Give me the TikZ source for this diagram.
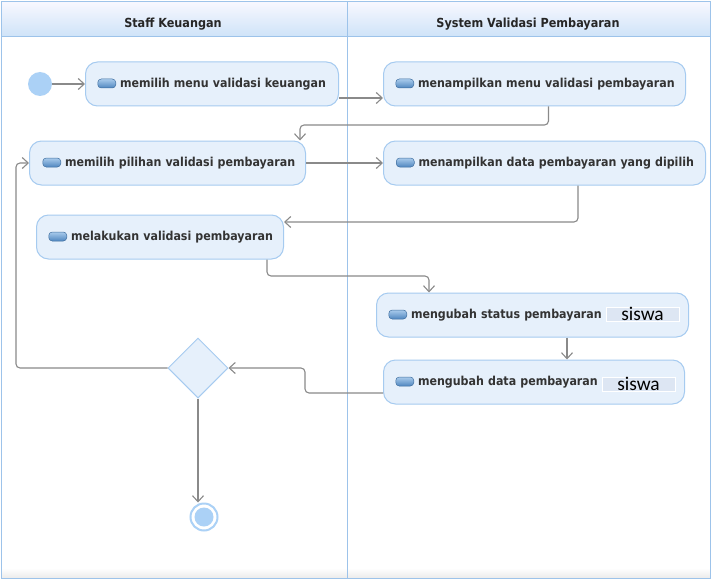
\documentclass[tikz,border=0pt]{standalone}
\usepackage{fontspec}
\setmainfont{DejaVu Sans Condensed}
\newfontfamily\carl{Carlito}
\usetikzlibrary{arrows.meta,shapes.geometric,calc}
\definecolor{laneb}{HTML}{9DC3EA}
\definecolor{actf}{HTML}{E6F0FB}
\definecolor{actb}{HTML}{A6CBF0}
\definecolor{txt}{HTML}{333333}
\definecolor{arr}{HTML}{8A8A8A}
\definecolor{initc}{HTML}{ABD1F6}
\definecolor{sisf}{HTML}{DDE6F3}
\definecolor{icotop}{HTML}{A9CBEC}
\definecolor{icobot}{HTML}{4F86BF}
\definecolor{icob}{HTML}{3F6E9F}
\newcommand{\acticon}{\tikz[baseline={(0,-8.5pt)}]\shade[top color=icotop,bottom color=icobot,draw=icob,line width=0.5pt,rounded corners=3.5pt] (0,0) rectangle (18pt,-9pt);\hspace{4pt}}
\newcommand{\acttext}[1]{\mbox{\acticon #1}}
\tikzset{
  act/.style={draw=actb, fill=actf, rounded corners=12pt, line width=1pt,
    minimum height=44pt, inner xsep=12pt, inner ysep=0pt, align=left, anchor=west,
    text height=10pt, text depth=3pt,
    font=\bfseries\fontsize{12.3}{14}\selectfont, text=txt},
  sis/.style={draw=white, fill=sisf, line width=0.6pt, minimum width=73pt, minimum height=14pt,
    inner sep=0pt, font=\carl\fontsize{19.4}{19}\selectfont, text=black},
  flow/.style={draw=arr, line width=1.1pt, rounded corners=4pt,
    -{Straight Barb[length=6pt,width=11pt,line width=1.1pt]}},
  hdr/.style={font=\bfseries\fontsize{12.5}{14}\selectfont, text=black!85}
}
\begin{document}
\begin{tikzpicture}[x=1pt,y=-1pt]
\useasboundingbox (0,0) rectangle (714,583);
% swimlanes
\fill[white] (0,0) rectangle (714,583);
\shade[top color=white, bottom color=black!8] (1,568) rectangle (710,578);
\shade[top color=blue!3!white, bottom color={rgb,255:red,206;green,227;blue,248}] (1,2) rectangle (710,37);
\draw[laneb, line width=1pt] (1,2) rectangle (710,578);
\draw[laneb, line width=1pt] (1,37) -- (710,37);
\draw[laneb, line width=1pt] (347,2) -- (347,578);
\node[hdr] (h1) at (173,24) {Staff Keuangan};
\node[hdr] (h2) at (528,24) {System Validasi Pembayaran};
% nodes
\node[circle, fill=initc, minimum size=24pt, inner sep=0pt] (start) at (40,84) {};
\node[act, text width=229pt] (n1) at (85,84) {\acttext{memilih menu validasi keuangan}};
\node[act, text width=278pt] (n2) at (383,84) {\acttext{menampilkan menu validasi pembayaran}};
\node[act, text width=250pt, inner xsep=13pt] (n3) at (29,163) {\acttext{memilih pilihan validasi pembayaran}};
\node[act, text width=297pt, inner xsep=12.5pt] (n4) at (383,163) {\acttext{menampilkan data pembayaran yang dipilih}};
\node[act, text width=223pt, inner xsep=12pt] (n5) at (36,237) {\acttext{melakukan validasi pembayaran}};
\node[act, text width=288pt] (n6) at (376,315) {\acttext{mengubah status pembayaran}};
\node[act, text width=277pt] (n7) at (383,382) {\acttext{mengubah data pembayaran}};
\node[sis] (s6) at (642.5,314) {siswa};
\node[sis] (s7) at (638.5,384) {siswa};
\node[diamond, draw=actb, fill=actf, line width=1pt, minimum width=60pt, minimum height=60pt, inner sep=0pt] (dec) at (198,368) {};
\node[circle, draw=initc, line width=2pt, fill=white, minimum size=27pt, inner sep=0pt] (end) at (204,517) {};
\fill[initc] (end.center) circle (9.5);
% bend coordinates
\coordinate (b3) at (300,125);
\coordinate (b5) at (578,222);
\coordinate (b6a) at (267,276);
\coordinate (b6b) at (429,276);
\coordinate (b7) at (567,0);
\coordinate (b8) at (305,393);
\coordinate (b9) at (16,368);
% connectors
\draw[flow] (start) -- (n1.west);
\draw[flow] ([yshift=-14pt]n1.east) -- ([yshift=-14pt]n2.west);
\draw[flow] ([xshift=14pt]n2.south) |- (b3) -- (b3 |- n3.north);
\draw[flow] (n3.east) -- (n4.west);
\draw[flow] (n4.south -| b5) -- (b5) -- (b5 -| n5.east);
\draw[flow] (n5.south -| b6a) -- (b6a) -- (b6b) -- (b6b |- n6.north);
\draw[flow] (n6.south -| b7) -- (n7.north -| b7);
\draw[flow] (n7.west |- b8) -- (b8) |- (dec.east);
\draw[flow] (dec.west) -- (b9) |- (n3.west);
\draw[flow] (dec.south) -- (dec.south |- end.north);
\end{tikzpicture}
\end{document}
